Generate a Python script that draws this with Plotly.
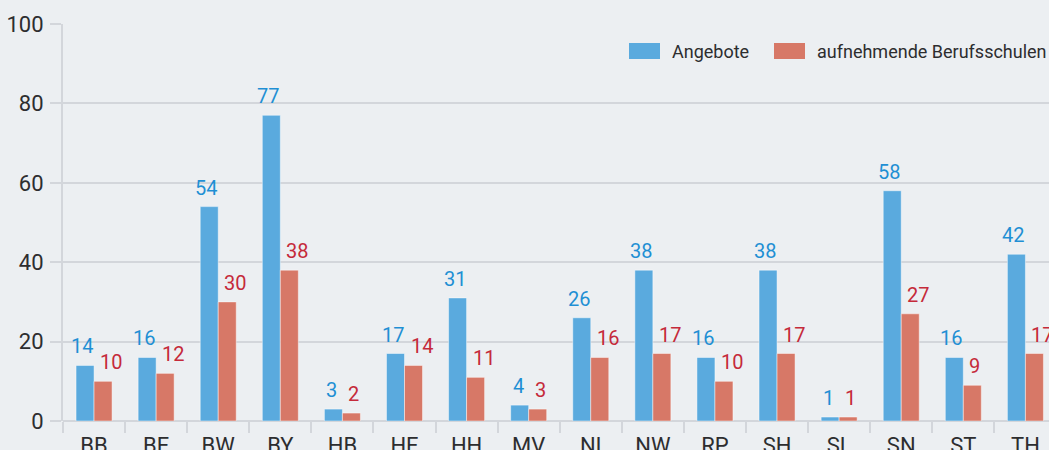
import plotly.graph_objects as go

laender = ["BB", "BE", "BW", "BY", "HB", "HE", "HH", "MV", "NI", "NW", "RP", "SH", "SL", "SN", "ST", "TH"]
angebote = [14, 16, 54, 77, 3, 17, 31, 4, 26, 38, 16, 38, 1, 58, 16, 42]
berufsschulen = [10, 12, 30, 38, 2, 14, 11, 3, 16, 17, 10, 17, 1, 27, 9, 17]
series_names = ["Angebote", "aufnehmende Berufsschulen"]
y_ticks = [0, 20, 40, 60, 80, 100]

FONT = "Roboto, sans-serif"
BG = "#eceff2"
GRID = "#d3d6db"
BLUE = "#5aaade"
RED = "#d77867"
BLUE_TXT = "#1f8fd4"
RED_TXT = "#c52a3a"
TXT = "#2d2d2f"

W, H = 1049, 450
ML, MT, MB, MR = 63, 24, 29, 0

fig = go.Figure()
fig.add_trace(go.Bar(x=laender, y=angebote, name=series_names[0], marker=dict(color=BLUE, line=dict(color="rgba(255,255,255,0.45)", width=1)), showlegend=False))
fig.add_trace(go.Bar(x=laender, y=berufsschulen, name=series_names[1], marker=dict(color=RED, line=dict(color="rgba(255,255,255,0.45)", width=1)), showlegend=False))

annotations = []
for cat, a, b in zip(laender, angebote, berufsschulen):
    ta, tb = str(a), str(b)
    annotations.append(dict(x=cat, y=a, text=ta, showarrow=False, xanchor="center", yanchor="bottom",
                            xshift=-9 - 1.5 * len(ta), yshift=6, borderpad=0,
                            font=dict(family=FONT, size=20, color=BLUE_TXT)))
    annotations.append(dict(x=cat, y=b, text=tb, showarrow=False, xanchor="left", yanchor="bottom",
                            xshift=5, yshift=6, borderpad=0,
                            font=dict(family=FONT, size=20, color=RED_TXT)))

pw = W - ML - MR
ph = H - MT - MB
def px(x):
    return (x - ML) / pw
def py(y):
    return (H - MB - y) / ph

shapes = []
legend_items = [(series_names[0], BLUE, 629), (series_names[1], RED, 774)]
for name, col, x0 in legend_items:
    shapes.append(dict(type="rect", xref="paper", yref="paper", x0=px(x0), x1=px(x0 + 31),
                       y0=py(59), y1=py(43), fillcolor=col, line=dict(width=0)))
    annotations.append(dict(xref="paper", yref="paper", x=px(x0 + 42), y=py(51), text=name,
                            showarrow=False, xanchor="left", yanchor="middle", borderpad=0,
                            font=dict(family=FONT, size=18, color=TXT)))

fig.update_layout(
    width=W, height=H,
    margin=dict(l=ML, r=MR, t=MT, b=MB, pad=0, autoexpand=False),
    paper_bgcolor=BG, plot_bgcolor=BG,
    barmode="group", bargap=0.42, bargroupgap=0,
    font=dict(family=FONT, color=TXT),
    annotations=annotations, shapes=shapes,
    showlegend=False,
    xaxis=dict(type="category", categoryorder="array", categoryarray=laender, automargin=False,
               range=[-0.5, 15.38], tickson="boundaries", ticks="outside", ticklen=11,
               tickcolor=GRID, tickwidth=2, showgrid=False, showline=False,
               tickfont=dict(family=FONT, size=22, color=TXT), ticklabelstandoff=9),
    yaxis=dict(range=[0, 100], tickvals=y_ticks, showgrid=True, gridcolor=GRID, gridwidth=2,
               automargin=False,
               zeroline=True, zerolinecolor=GRID, zerolinewidth=2,
               showline=True, linecolor=GRID, linewidth=2,
               ticks="outside", ticklen=11, tickcolor=GRID, tickwidth=2,
               tickfont=dict(family=FONT, size=22, color=TXT), ticklabelstandoff=2),
)

fig.write_html("out.html", config={"displayModeBar": False},
               post_script="document.body.style.margin='0';document.body.style.overflow='hidden';")
